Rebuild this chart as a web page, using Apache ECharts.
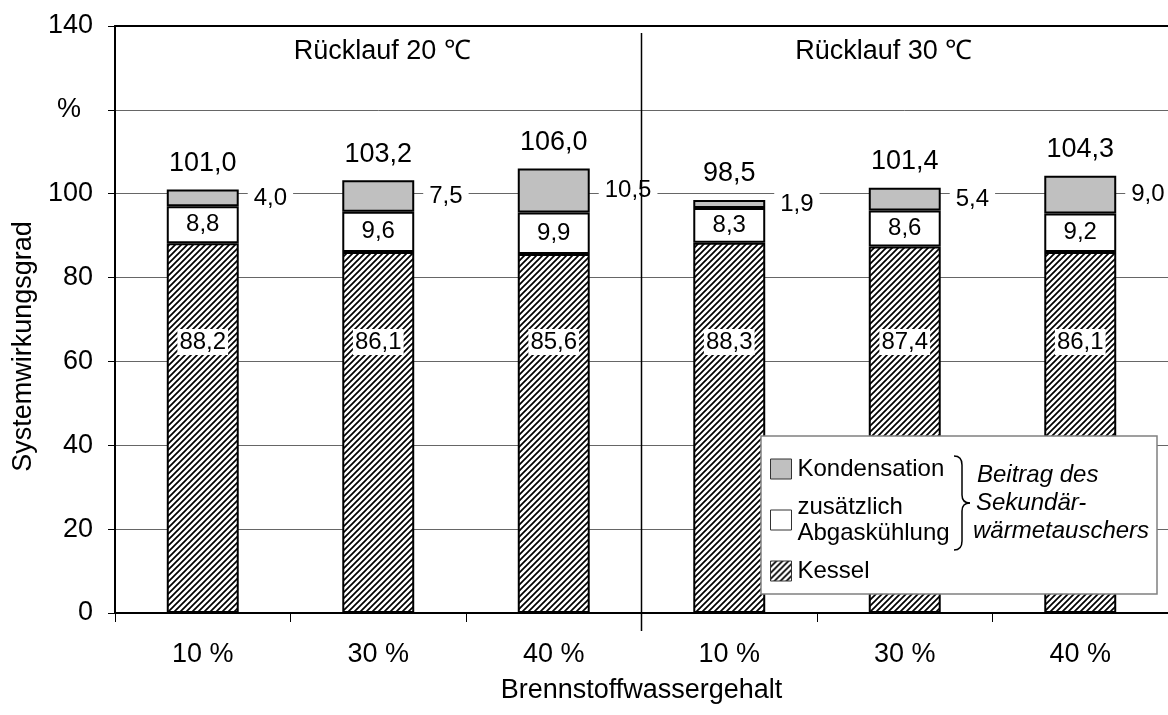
<!DOCTYPE html>
<html><head><meta charset="utf-8">
<script src="https://cdn.jsdelivr.net/npm/echarts@6/dist/echarts.min.js"></script>
<style>html,body{margin:0;padding:0;background:#fff}#c{width:1168px;height:715px}</style>
</head><body><div id="c"></div>
<script>
const categories = ['10 %', '30 %', '40 %', '10 %', '30 %', '40 %'];
const groupLabels = ['Rücklauf 20 ℃', 'Rücklauf 30 ℃'];
const kessel = [88.2, 86.1, 85.6, 88.3, 87.4, 86.1];
const abgas = [8.8, 9.6, 9.9, 8.3, 8.6, 9.2];
const kondensation = [4.0, 7.5, 10.5, 1.9, 5.4, 9.0];
const totals = [101.0, 103.2, 106.0, 98.5, 101.4, 104.3];
const yTicks = [0, 20, 40, 60, 80, 100, 120, 140];
const braceText = ['Beitrag des', 'Sekundär-', 'wärmetauschers'];

const FONT = 'Liberation Sans, Arial, sans-serif';
function fmt(v){ return (typeof v === 'object' ? v.value : v).toFixed(1).replace('.', ','); }

function hatch(){
  const c = document.createElement('canvas'); c.width = 6; c.height = 6;
  const g = c.getContext('2d');
  g.fillStyle = '#fff'; g.fillRect(0,0,6,6);
  g.strokeStyle = '#000'; g.lineWidth = 1.7;
  g.beginPath();
  g.moveTo(-1,7); g.lineTo(7,-1);
  g.moveTo(-2,2); g.lineTo(2,-2);
  g.moveTo(4,8); g.lineTo(8,4);
  g.stroke();
  return {image: c, repeat: 'repeat'};
}
const hatchFill = hatch();

const chart = echarts.init(document.getElementById('c'), null, {renderer: 'canvas'});
const option = {
  animation: false,
  textStyle: {fontFamily: FONT, color: '#000'},
  grid: {left: 115, top: 26, right: -5, bottom: 102},
  legend: {
    orient: 'vertical', left: 765, top: 451, itemGap: 12,
    itemWidth: 21, itemHeight: 20, z: 20,
    data: ['Kondensation', 'zusätzlich\nAbgaskühlung', 'Kessel'],
    icon: 'rect',
    itemStyle: {borderColor: '#333', borderWidth: 1},
    textStyle: {fontFamily: FONT, fontSize: 24, color: '#000', lineHeight: 26, padding: [0,0,0,1]}
  },
  xAxis: [{
    type: 'category', data: categories,
    axisLine: {lineStyle: {color: '#000', width: 2}},
    axisTick: {show: true, length: 9, lineStyle: {color: '#000', width: 1}},
    axisLabel: {fontSize: 27, margin: 28, color: '#000', fontFamily: FONT},
    name: 'Brennstoffwassergehalt', nameLocation: 'middle', nameGap: 64,
    nameTextStyle: {fontSize: 27, color: '#000', fontFamily: FONT}
  }, {
    type: 'category', data: categories, position: 'top',
    axisLine: {lineStyle: {color: '#000', width: 2}},
    axisTick: {show: false}, axisLabel: {show: false}
  }],
  yAxis: {
    type: 'value', min: 0, max: 140, interval: 20,
    axisLine: {show: true, lineStyle: {color: '#000', width: 2}},
    axisTick: {show: true, length: 7, lineStyle: {color: '#000'}},
    splitLine: {show: true, lineStyle: {color: '#666', width: 1}},
    axisLabel: {
      fontSize: 27, margin: 22, color: '#000', fontFamily: FONT,
      formatter: v => yTicks.indexOf(v) === 6 ? '{p|%}' : String(v),
      rich: {p: {fontSize: 27, fontFamily: FONT, padding: [0, 12, 0, 0]}}
    },
    name: 'Systemwirkungsgrad', nameLocation: 'middle', nameGap: 77,
    nameTextStyle: {fontSize: 27, color: '#000', fontFamily: FONT, padding: [0, 54, 0, 0]}
  },
  series: [
    {
      name: 'Kessel', type: 'bar', stack: 's', data: kessel, barWidth: '41%',
      itemStyle: {color: hatchFill, borderColor: '#000', borderWidth: 2},
      label: {show: true, position: 'insideBottom', distance: 258, formatter: p => fmt(p.value),
        fontSize: 24, color: '#000', backgroundColor: '#fff', padding: [1, 2], fontFamily: FONT}
    },
    {
      name: 'zusätzlich\nAbgaskühlung', type: 'bar', stack: 's', data: abgas,
      itemStyle: {color: '#fff', borderColor: '#000', borderWidth: 2},
      label: {show: true, position: 'inside', formatter: p => fmt(p.value),
        fontSize: 24, color: '#000', fontFamily: FONT}
    },
    {
      name: 'Kondensation', type: 'bar', stack: 's', data: kondensation,
      itemStyle: {color: '#c0c0c0', borderColor: '#000', borderWidth: 2},
      label: {show: true, position: 'right', distance: 9, formatter: p => fmt(p.value),
        fontSize: 24, color: '#000', backgroundColor: '#fff', padding: [1, 6], fontFamily: FONT}
    },
    {
      name: 'Summe', type: 'scatter', data: totals, symbolSize: 1,
      itemStyle: {color: 'rgba(0,0,0,0)', opacity: 1}, z: 5,
      label: {show: true, position: 'top', distance: 12, formatter: p => fmt(p.value),
        fontSize: 27, color: '#000', fontFamily: FONT}
    }
  ]
};
chart.setOption(option);

const c2 = chart.convertToPixel({xAxisIndex: 0}, 2);
const c3 = chart.convertToPixel({xAxisIndex: 0}, 3);
const c1 = chart.convertToPixel({xAxisIndex: 0}, 1);
const c4 = chart.convertToPixel({xAxisIndex: 0}, 4);
const sepX = (c2 + c3) / 2;
const bx = 761, by = 436, bw = 396, bh = 158;
const braceStyle = {stroke: '#000', lineWidth: 1.5, fill: null};
chart.setOption({
  graphic: [
    {type: 'line', z: 3, shape: {x1: sepX, y1: 33, x2: sepX, y2: 631}, style: {stroke: '#000', lineWidth: 1.5}},
    {type: 'text', z: 3, style: {text: groupLabels[0], x: c1 + 4, y: 52, align: 'center', verticalAlign: 'middle', font: '27px ' + FONT, fill: '#000'}},
    {type: 'text', z: 3, style: {text: groupLabels[1], x: c4 - 21, y: 52, align: 'center', verticalAlign: 'middle', font: '27px ' + FONT, fill: '#000'}},
    {type: 'rect', z: 15, shape: {x: bx, y: by, width: bw, height: bh}, style: {fill: '#fff', stroke: '#808080', lineWidth: 1.5}},
    {type: 'bezierCurve', z: 21, shape: {x1: 954, y1: 456, x2: 962, y2: 465, cpx1: 962, cpy1: 456}, style: braceStyle},
    {type: 'line', z: 21, shape: {x1: 962, y1: 465, x2: 962, y2: 495}, style: braceStyle},
    {type: 'bezierCurve', z: 21, shape: {x1: 962, y1: 495, x2: 970, y2: 503, cpx1: 962, cpy1: 503}, style: braceStyle},
    {type: 'bezierCurve', z: 21, shape: {x1: 970, y1: 503, x2: 962, y2: 511, cpx1: 962, cpy1: 503}, style: braceStyle},
    {type: 'line', z: 21, shape: {x1: 962, y1: 511, x2: 962, y2: 541}, style: braceStyle},
    {type: 'bezierCurve', z: 21, shape: {x1: 962, y1: 541, x2: 954, y2: 550, cpx1: 962, cpy1: 550}, style: braceStyle},
    {type: 'text', z: 21, style: {text: braceText[0], x: 977, y: 475, verticalAlign: 'middle', font: 'italic 24px ' + FONT, fill: '#000'}},
    {type: 'text', z: 21, style: {text: braceText[1], x: 976, y: 503, verticalAlign: 'middle', font: 'italic 24px ' + FONT, fill: '#000'}},
    {type: 'text', z: 21, style: {text: braceText[2], x: 973, y: 531, verticalAlign: 'middle', font: 'italic 24px ' + FONT, fill: '#000'}}
  ]
});
</script>
</body></html>
